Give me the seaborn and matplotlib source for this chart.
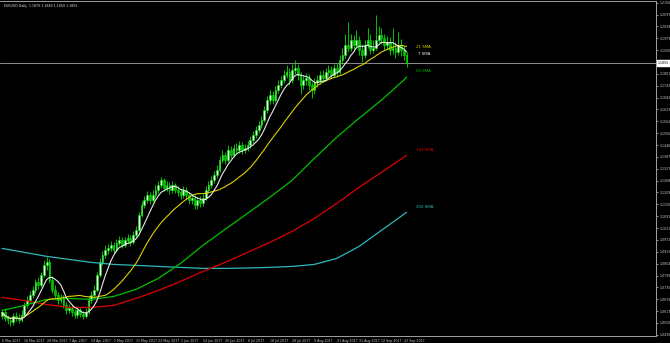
import numpy as np
import pandas as pd
import matplotlib
matplotlib.use("Agg")
import matplotlib.pyplot as plt
import seaborn as sns

# ---------------- data ----------------
dates = pd.bdate_range("2017-03-06", periods=146)

opens = [1.0590,
         1.0610, 1.0580, 1.0570, 1.0560, 1.0590, 1.0580, 1.0570, 1.0595,
         1.0645, 1.0670, 1.0695, 1.0720, 1.0760, 1.0745, 1.0795, 1.0845, 1.0860,
         1.0770, 1.0720, 1.0695, 1.0670, 1.0680, 1.0645, 1.0620,
         1.0630, 1.0610, 1.0595, 1.0620, 1.0600, 1.0590, 1.0610,
         1.0670, 1.0695, 1.0720, 1.0795, 1.0860, 1.0895, 1.0920,
         1.0930, 1.0945, 1.0920, 1.0955, 1.0970, 1.0945, 1.0970, 1.0980,
         1.0960, 1.0995, 1.1020, 1.1095, 1.1145, 1.1170, 1.1195,
         1.1170, 1.1195, 1.1220, 1.1245, 1.1270, 1.1230, 1.1245, 1.1220,
         1.1245, 1.1220, 1.1210, 1.1195, 1.1220, 1.1195, 1.1170, 1.1180,
         1.1145, 1.1170, 1.1155, 1.1180, 1.1220, 1.1245, 1.1270,
         1.1295, 1.1320, 1.1370, 1.1395, 1.1370, 1.1420, 1.1395, 1.1430, 1.1420, 1.1445,
         1.1420, 1.1430, 1.1445, 1.1470, 1.1495, 1.1520, 1.1545, 1.1570, 1.1620, 1.1670,
         1.1695, 1.1670, 1.1720, 1.1745, 1.1770, 1.1795, 1.1810, 1.1770, 1.1820, 1.1830,
         1.1795, 1.1745, 1.1770, 1.1780, 1.1745, 1.1720, 1.1760, 1.1770, 1.1795, 1.1780, 1.1810,
         1.1820, 1.1795, 1.1830, 1.1810, 1.1870, 1.1895, 1.1945, 1.1930, 1.1970,
         1.1945, 1.1970, 1.1920, 1.1895, 1.1945, 1.1970, 1.1920, 1.1930, 1.1970, 1.1995,
         1.1980, 1.1945, 1.1960, 1.1920, 1.1930, 1.1910, 1.1945, 1.1920, 1.1895]

highs = [1.0625, 1.0630, 1.0595, 1.0585, 1.0605, 1.0612, 1.0600, 1.0620,
         1.0660, 1.0690, 1.0715, 1.0740, 1.0778, 1.0785, 1.0812, 1.0870, 1.0885,
         1.0875, 1.0790, 1.0745, 1.0712, 1.0700, 1.0695, 1.0660,
         1.0650, 1.0645, 1.0628, 1.0640, 1.0635, 1.0618, 1.0630,
         1.0690, 1.0715, 1.0745, 1.0810, 1.0880, 1.0915, 1.0945,
         1.0950, 1.0965, 1.0960, 1.0975, 1.0990, 1.0985, 1.0988, 1.1000,
         1.0995, 1.1015, 1.1040, 1.1110, 1.1165, 1.1190, 1.1215,
         1.1210, 1.1220, 1.1245, 1.1268, 1.1285, 1.1280, 1.1265, 1.1260,
         1.1265, 1.1258, 1.1240, 1.1228, 1.1240, 1.1235, 1.1210, 1.1200,
         1.1195, 1.1188, 1.1190, 1.1200, 1.1240, 1.1265, 1.1290,
         1.1315, 1.1345, 1.1390, 1.1420, 1.1410, 1.1445, 1.1440, 1.1450, 1.1455, 1.1468,
         1.1460, 1.1450, 1.1465, 1.1490, 1.1515, 1.1540, 1.1565, 1.1590, 1.1640, 1.1690,
         1.1720, 1.1715, 1.1740, 1.1770, 1.1790, 1.1820, 1.1845, 1.1830, 1.1850, 1.1870,
         1.1850, 1.1810, 1.1790, 1.1805, 1.1800, 1.1760, 1.1780, 1.1795, 1.1815, 1.1820, 1.1830,
         1.1845, 1.1840, 1.1850, 1.1855, 1.1895, 1.1930, 1.2000, 1.2060, 1.2000,
         1.1995, 1.2020, 1.1990, 1.1950, 1.1970, 1.2030, 1.2000, 1.1970, 1.2095, 1.2040,
         1.2030, 1.2000, 1.1990, 1.1985, 1.2030, 1.1960, 1.2010, 1.1975, 1.1940, 1.1910]

lows = [1.0575, 1.0565, 1.0550, 1.0540, 1.0548, 1.0565, 1.0555, 1.0560,
        1.0588, 1.0630, 1.0655, 1.0680, 1.0705, 1.0725, 1.0735, 1.0785, 1.0820,
        1.0755, 1.0705, 1.0680, 1.0650, 1.0655, 1.0630, 1.0600,
        1.0605, 1.0590, 1.0580, 1.0582, 1.0585, 1.0578, 1.0580,
        1.0600, 1.0655, 1.0680, 1.0710, 1.0785, 1.0845, 1.0880,
        1.0900, 1.0915, 1.0905, 1.0910, 1.0940, 1.0930, 1.0935, 1.0955,
        1.0940, 1.0950, 1.0980, 1.1010, 1.1085, 1.1130, 1.1155,
        1.1150, 1.1160, 1.1180, 1.1205, 1.1230, 1.1215, 1.1215, 1.1200,
        1.1205, 1.1205, 1.1190, 1.1178, 1.1180, 1.1175, 1.1150, 1.1150,
        1.1125, 1.1125, 1.1135, 1.1140, 1.1170, 1.1205, 1.1230,
        1.1255, 1.1280, 1.1310, 1.1355, 1.1350, 1.1360, 1.1380, 1.1385, 1.1400, 1.1405,
        1.1400, 1.1405, 1.1415, 1.1430, 1.1455, 1.1480, 1.1505, 1.1530, 1.1560, 1.1605,
        1.1650, 1.1650, 1.1660, 1.1705, 1.1730, 1.1755, 1.1780, 1.1745, 1.1755, 1.1800,
        1.1770, 1.1700, 1.1725, 1.1745, 1.1720, 1.1680, 1.1700, 1.1735, 1.1750, 1.1760, 1.1765,
        1.1790, 1.1775, 1.1780, 1.1790, 1.1800, 1.1850, 1.1880, 1.1910, 1.1915,
        1.1915, 1.1930, 1.1895, 1.1860, 1.1880, 1.1930, 1.1900, 1.1905, 1.1920, 1.1955,
        1.1950, 1.1920, 1.1925, 1.1895, 1.1900, 1.1880, 1.1895, 1.1890, 1.1870, 1.1835]

closes = [1.0610, 1.0580, 1.0570, 1.0560, 1.0590, 1.0580, 1.0570, 1.0595,
          1.0645, 1.0670, 1.0695, 1.0720, 1.0760, 1.0745, 1.0795, 1.0845, 1.0860,
          1.0770, 1.0720, 1.0695, 1.0670, 1.0680, 1.0645, 1.0620,
          1.0630, 1.0610, 1.0595, 1.0620, 1.0600, 1.0590, 1.0610,
          1.0670, 1.0695, 1.0720, 1.0795, 1.0860, 1.0895, 1.0920,
          1.0930, 1.0945, 1.0920, 1.0955, 1.0970, 1.0945, 1.0970, 1.0980,
          1.0960, 1.0995, 1.1020, 1.1095, 1.1145, 1.1170, 1.1195,
          1.1170, 1.1195, 1.1220, 1.1245, 1.1270, 1.1230, 1.1245, 1.1220,
          1.1245, 1.1220, 1.1210, 1.1195, 1.1220, 1.1195, 1.1170, 1.1180,
          1.1145, 1.1170, 1.1155, 1.1180, 1.1220, 1.1245, 1.1270,
          1.1295, 1.1320, 1.1370, 1.1395, 1.1370, 1.1420, 1.1395, 1.1430, 1.1420, 1.1445,
          1.1420, 1.1430, 1.1445, 1.1470, 1.1495, 1.1520, 1.1545, 1.1570, 1.1620, 1.1670,
          1.1695, 1.1670, 1.1720, 1.1745, 1.1770, 1.1795, 1.1810, 1.1770, 1.1820, 1.1830,
          1.1795, 1.1745, 1.1770, 1.1780, 1.1745, 1.1720, 1.1760, 1.1770, 1.1795, 1.1780, 1.1810,
          1.1820, 1.1795, 1.1830, 1.1810, 1.1870, 1.1895, 1.1945, 1.1930, 1.1970,
          1.1945, 1.1970, 1.1920, 1.1895, 1.1945, 1.1970, 1.1920, 1.1930, 1.1970, 1.1995,
          1.1980, 1.1945, 1.1960, 1.1920, 1.1930, 1.1910, 1.1945, 1.1920, 1.1895, 1.1855]

# long moving averages (bar index, value)
ma_bars = [0, 8, 16, 24, 32, 40, 48, 56, 64, 72, 80, 88, 96, 104, 112, 120, 128, 136, 144, 145]
sma55 = [1.0620, 1.0645, 1.0675, 1.0680, 1.0675, 1.0690, 1.0725, 1.0780, 1.0855, 1.0945,
         1.1025, 1.1105, 1.1185, 1.1270, 1.1380, 1.1485, 1.1580, 1.1670, 1.1770, 1.1785]
sma144 = [1.0685, 1.0670, 1.0650, 1.0635, 1.0635, 1.0645, 1.0680, 1.0720, 1.0765, 1.0815,
          1.0860, 1.0910, 1.0960, 1.1015, 1.1080, 1.1155, 1.1235, 1.1310, 1.1385, 1.1395]
sma200 = [1.0930, 1.0910, 1.0890, 1.0875, 1.0860, 1.0850, 1.0845, 1.0840, 1.0835, 1.0830,
          1.0830, 1.0832, 1.0835, 1.0840, 1.0850, 1.0880, 1.0940, 1.1020, 1.1100, 1.1110]

ma_names = ["7 SMA", "21 SMA", "55 SMA", "144 SMA", "200 SMA"]
ytick_start = 1.04985
ytick_step = 0.005921
title_text = "EURUSD,Daily  1.1870 1.1880 1.1850 1.1855"
last_price = 1.1855

# ---------------- plot ----------------
sns.set_theme(style="dark")
plt.rcParams["font.family"] = ["DejaVu Sans"]

fig = plt.figure(figsize=(6.70, 3.43), dpi=100, facecolor="black")
ax = fig.add_axes([0.0, 7.5 / 343, 656 / 670, 334.5 / 343])
ax.set_facecolor("black")

n = len(closes)
idx = np.arange(n)
o = np.array(opens)
c = np.array(closes)

wick = "#00e000"
ax.vlines(idx, lows, highs, color=wick, linewidth=0.6, zorder=2)
up = c >= o
body_h = np.abs(c - o)
body_h = np.where(body_h < 0.0003, 0.0003, body_h)
ax.bar(idx[up], body_h[up], bottom=np.minimum(o, c)[up], width=0.62,
       color="#f4fff4", edgecolor=wick, linewidth=0.45, zorder=3)
ax.bar(idx[~up], body_h[~up], bottom=np.minimum(o, c)[~up], width=0.62,
       color="#10b010", edgecolor=wick, linewidth=0.45, zorder=3)

cs = pd.Series(closes)
sma7 = cs.rolling(7, min_periods=1).mean()
sma21 = cs.rolling(21, min_periods=1).mean()

col7, col21, col55, col144, col200 = "#e8e8e8", "#e0d000", "#00c000", "#e00000", "#2fb8b8"
sns.lineplot(x=ma_bars, y=sma200, color=col200, linewidth=0.9, ax=ax, zorder=4)
sns.lineplot(x=ma_bars, y=sma144, color=col144, linewidth=0.9, ax=ax, zorder=4)
sns.lineplot(x=ma_bars, y=sma55, color=col55, linewidth=0.9, ax=ax, zorder=4)
sns.lineplot(x=idx, y=sma21.values, color=col21, linewidth=0.8, ax=ax, zorder=5)
sns.lineplot(x=idx, y=sma7.values, color=col7, linewidth=0.8, ax=ax, zorder=6)

# labels of MAs
lx = 148.5
fs_lab = 2.9
ax.text(lx, 1.1935, ma_names[1], color=col21, fontsize=fs_lab, va="center", ha="left")
ax.text(lx + 0.6, 1.1900, ma_names[0], color=col7, fontsize=fs_lab, va="center", ha="left")
ax.text(lx, 1.1815, ma_names[2], color=col55, fontsize=fs_lab, va="center", ha="left")
ax.text(lx, 1.1420, ma_names[3], color=col144, fontsize=fs_lab, va="center", ha="left")
ax.text(lx, 1.1135, ma_names[4], color=col200, fontsize=fs_lab, va="center", ha="left")

# current price line
ax.axhline(last_price, color="#8c8c8c", linewidth=0.7, zorder=1)

ax.set_xlim(-0.72, 234.4)
ax.set_ylim(1.0495, 1.2165)

fs_tick = 2.3
yt = [ytick_start + ytick_step * k for k in range(29)]
ax.set_yticks(yt)
ax.set_yticklabels([f"{v:.4f}" for v in yt])
ax.yaxis.tick_right()
ax.tick_params(axis="y", colors="#c8c8c8", labelsize=fs_tick, length=1.5, width=0.5,
               direction="out", pad=0.8)

xt = list(range(0, 146, 8))
ax.set_xticks(xt)
ax.set_xticklabels([f"{d.day} {d.strftime('%b %Y')}" for d in dates[xt]], ha="left")
ax.tick_params(axis="x", colors="#c8c8c8", labelsize=fs_tick, length=2, width=0.5,
               direction="out", pad=0.3)

ax.grid(False)
for s in ax.spines.values():
    s.set_color("#a0a0a0")
    s.set_linewidth(0.7)
ax.spines["left"].set_visible(False)

# price tag on the axis
ax.text(1.003, last_price, f"{last_price:.4f}", transform=ax.get_yaxis_transform(),
        ha="left", va="center", fontsize=fs_tick, color="black",
        bbox=dict(boxstyle="square,pad=0.2", fc="white", ec="white"), zorder=10, clip_on=False)

fig.text(4 / 670, 1 - 6 / 343, title_text, color="#e0e0e0", fontsize=fs_tick, va="center", ha="left")

fig.savefig("out.png", dpi=100, facecolor="black")
